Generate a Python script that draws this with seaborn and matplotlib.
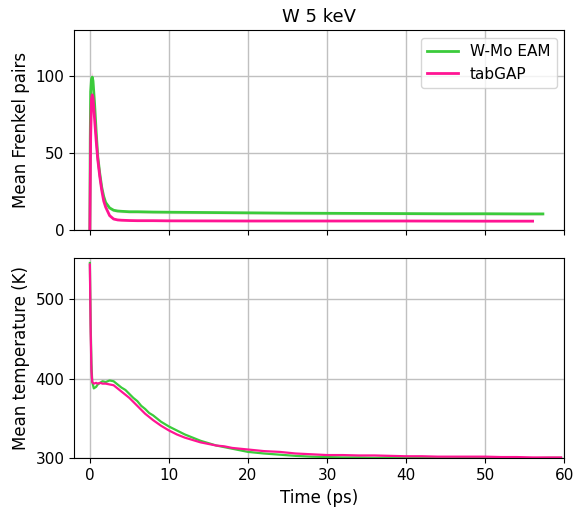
"""W 5 keV cascade: Frenkel pairs and temperature vs time."""

import matplotlib
matplotlib.use("Agg")
import matplotlib.pyplot as plt
import numpy as np
import seaborn as sns

# Frenkel pairs, W-Mo EAM
fp_eam_t = [0, 0.05, 0.1, 0.2, 0.3, 0.4, 0.6, 0.8, 1.0, 1.25, 1.5, 1.75, 2.0, 2.5, 3.0,
            3.5, 4, 5, 6, 8, 10, 15, 20, 25, 30, 35, 40, 45, 50, 55, 57.3]
fp_eam = [0, 60, 90, 98, 99.5, 97, 82, 64, 48, 37, 28, 22, 18, 14.5, 13,
          12.5, 12.3, 12, 12, 11.8, 11.7, 11.5, 11.3, 11.1, 11, 10.9, 10.8, 10.7, 10.7, 10.6, 10.6]
fp_eam_std = [0, 8, 6, 4, 3, 3, 3, 2, 2, 1.5, 1.5, 1, 1, 1, 1,
              1, 1, 1, 1, 1, 1, 1, 1, 1, 1, 1, 1, 1, 1, 1, 1]

# Frenkel pairs, tabGAP
fp_gap_t = [0, 0.05, 0.1, 0.2, 0.3, 0.4, 0.6, 0.8, 1.0, 1.25, 1.5, 1.75, 2.0, 2.5, 3.0,
            3.5, 4, 5, 6, 8, 10, 20, 30, 40, 50, 56]
fp_gap = [0, 30, 60, 85, 88, 86, 72, 58, 46, 35, 26, 19, 15, 9.5, 7.3,
          6.7, 6.5, 6.3, 6.2, 6.2, 6.1, 6.0, 6.0, 6.0, 5.9, 5.9]
fp_gap_std = [0, 25, 30, 20, 12, 10, 7, 5, 4, 3, 2, 1.5, 1, 0.8, 0.6,
              0.5, 0.5, 0.5, 0.5, 0.5, 0.5, 0.5, 0.5, 0.5, 0.5, 0.5]

# Mean temperature
temp_t = [0, 0.1, 0.2, 0.3, 0.5, 0.8, 1.0, 1.3, 1.6, 2.0, 2.5, 3.0, 3.5, 4.0, 4.5, 5.0,
          5.5, 6.0, 6.5, 7.0, 7.5, 8.0, 9.0, 10, 11, 12, 13, 14, 15, 16, 17, 18, 19, 20,
          22, 24, 26, 28, 30, 32, 34, 36, 38, 40, 42, 44, 46, 48, 50, 52, 54, 56, 58, 59.6]
temp_eam = [546, 470, 420, 396, 388, 390, 393, 395, 397, 396, 398, 397, 393, 389, 386, 381,
            376, 372, 366, 362, 357, 354, 346, 340, 335, 330, 326, 322, 319, 316, 314, 312, 310, 308,
            306, 304.5, 303, 302, 301.5, 301, 301, 300.5, 301, 300.5, 300.5, 300, 300, 300.5, 300, 300,
            300, 300, 300.5, 300.5]
temp_gap = [544, 460, 410, 396, 394, 395, 394, 395, 394, 394, 393, 392, 388, 384, 380, 376,
            371, 366, 361, 356, 352, 348, 341, 335, 330, 326, 323, 320, 318, 316, 315, 313, 312, 311,
            309, 308, 306, 305, 304, 304, 303.5, 303.5, 303, 302.5, 302.5, 302, 302, 302, 302, 301.5,
            301.5, 301, 301, 301]

EAM_COLOR = "#3BCB3B"
GAP_COLOR = "#FF1493"

plt.rcParams.update({"font.size": 11, "axes.labelsize": 12, "axes.titlesize": 13,
                     "xtick.labelsize": 11, "ytick.labelsize": 11, "legend.fontsize": 11})

fig, (ax1, ax2) = plt.subplots(2, 1, sharex=True, figsize=(5.74, 5.12), dpi=100)
fig.subplots_adjust(left=0.129, right=0.983, top=0.941, bottom=0.105, hspace=0.14)

# top panel: Frenkel pairs with spread bands
ax1.fill_between(fp_eam_t, np.array(fp_eam) - np.array(fp_eam_std),
                 np.array(fp_eam) + np.array(fp_eam_std), color=GAP_COLOR, alpha=0.12, linewidth=0)
ax1.fill_between(fp_gap_t, np.array(fp_gap) - np.array(fp_gap_std),
                 np.array(fp_gap) + np.array(fp_gap_std), color=GAP_COLOR, alpha=0.15, linewidth=0)
sns.lineplot(x=fp_eam_t, y=fp_eam, ax=ax1, color=EAM_COLOR, linewidth=2, label="W-Mo EAM")
sns.lineplot(x=fp_gap_t, y=fp_gap, ax=ax1, color=GAP_COLOR, linewidth=2, label="tabGAP")
ax1.set_ylim(0, 130)
ax1.set_yticks([0, 50, 100])
ax1.set_ylabel("Mean Frenkel pairs")
ax1.set_title("W 5 keV")
ax1.legend(loc="upper right")
ax1.grid(True, color="#c0c0c0", linewidth=1)

# bottom panel: temperature
sns.lineplot(x=temp_t, y=temp_eam, ax=ax2, color=EAM_COLOR, linewidth=1.6)
sns.lineplot(x=temp_t, y=temp_gap, ax=ax2, color=GAP_COLOR, linewidth=1.6)
ax2.set_ylim(300, 552)
ax2.set_yticks([300, 400, 500])
ax2.set_xlim(-2, 60)
ax2.set_xticks([0, 10, 20, 30, 40, 50, 60])
ax2.set_ylabel("Mean temperature (K)")
ax2.set_xlabel("Time (ps)")
ax2.grid(True, color="#c0c0c0", linewidth=1)

fig.savefig("out.png", dpi=100)
plt.close(fig)
